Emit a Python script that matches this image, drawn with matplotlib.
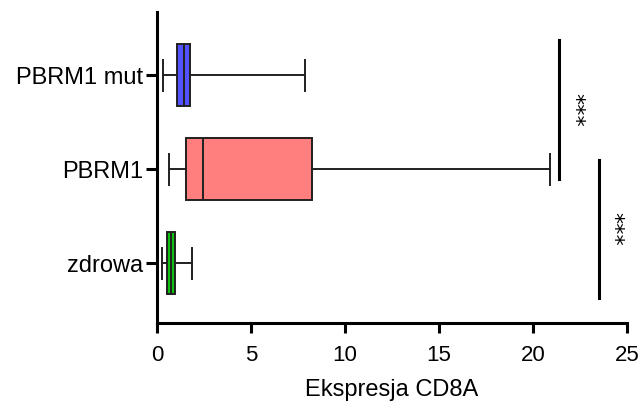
import matplotlib
matplotlib.use('Agg')
import matplotlib.pyplot as plt

# ── Data ───────────────────────────────────────────────────────────
groups   = ['zdrowa', 'PBRM1', 'PBRM1 mut']
whis_lo  = [0.25, 0.64, 0.30]
q1       = [0.55, 1.53, 1.08]
medians  = [0.74, 2.46, 1.42]
q3       = [0.97, 8.26, 1.77]
whis_hi  = [1.85, 20.9, 7.85]
colors   = ['#10C010', '#FF7F7F', '#5252FF']

# significance brackets: x position, y span (category units), label
sig_x     = [21.4, 23.5]
sig_y0    = [0.89, -0.37]
sig_y1    = [2.37, 1.10]
sig_label = ['***', '***']

plt.rcParams['font.family'] = ['Liberation Sans', 'DejaVu Sans']

fig = plt.figure(figsize=(6.41, 4.07), dpi=100)
ax = fig.add_axes([0.245, 0.206, 0.733, 0.764])

stats = []
for i, g in enumerate(groups):
    stats.append(dict(label=g, whislo=whis_lo[i], q1=q1[i], med=medians[i],
                      q3=q3[i], whishi=whis_hi[i], fliers=[]))

line_kw = dict(color='#202020', linewidth=1.4)
bp = ax.bxp(stats, positions=range(len(groups)), vert=False, widths=0.66,
            patch_artist=True, showfliers=False,
            boxprops=dict(linewidth=1.4, edgecolor='#202020'),
            medianprops=line_kw, whiskerprops=line_kw, capprops=line_kw,
            capwidths=0.33)
for patch, c in zip(bp['boxes'], colors):
    patch.set_facecolor(c)

# significance lines
for x, y0, y1, lab in zip(sig_x, sig_y0, sig_y1, sig_label):
    ax.plot([x, x], [y0, y1], color='black', linewidth=2.2, clip_on=False)
    ax.text(x + 0.8, (y0 + y1) / 2, lab, rotation=-90, ha='center', va='center',
            fontsize=16, family='DejaVu Sans')

ax.set_xlim(0, 25)
ax.set_ylim(-0.64, 2.67)
ax.set_xticks([0, 5, 10, 15, 20, 25])
ax.set_yticks(range(len(groups)))
ax.set_yticklabels(groups)
ax.tick_params(axis='both', width=2.2, direction='out')
ax.tick_params(axis='x', length=7, pad=9, labelsize=16)
ax.tick_params(axis='y', length=8, pad=2, labelsize=17)
ax.set_xlabel('Ekspresja CD8A', fontsize=17, labelpad=9)

for s in ['top', 'right']:
    ax.spines[s].set_visible(False)
for s in ['left', 'bottom']:
    ax.spines[s].set_linewidth(2.2)

fig.savefig('out.png', dpi=100)
